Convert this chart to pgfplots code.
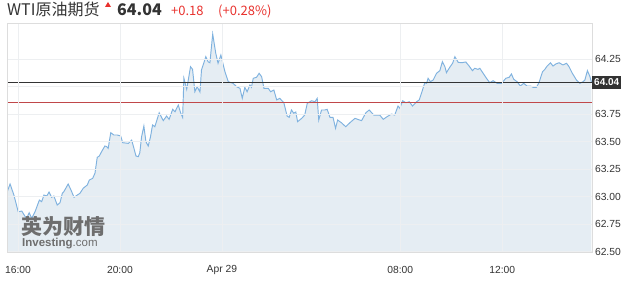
\documentclass[border=0pt]{standalone}
\usepackage{fontspec}
\setmainfont{Liberation Sans}
\newfontfamily\cjk{Noto Sans CJK SC}
\usepackage{pgfplots}
\pgfplotsset{compat=1.18}
\definecolor{dark}{HTML}{333333}
\definecolor{upred}{HTML}{E8322E}
\definecolor{linecol}{HTML}{7FB2DF}
\definecolor{fillcol}{HTML}{E5EDF3}
\definecolor{gridcol}{HTML}{EDEFF1}
\definecolor{framecol}{HTML}{DDDDDD}
\definecolor{prevred}{HTML}{C0484A}
\definecolor{wm}{HTML}{6E6E6E}
\begin{document}
\begin{tikzpicture}
\useasboundingbox (0,0) rectangle (627pt,288pt);
\begin{axis}[
  at={(7pt,35.3pt)}, anchor=south west,
  width=585pt, height=229.7pt, scale only axis,
  xmin=-0.43, xmax=22.52, ymin=62.491, ymax=64.577,
  xtick={0,4,8,15,19},
  xticklabels={16:00,20:00,Apr 29,08:00,12:00},
  ytick={62.5,62.75,63,63.25,63.5,63.75,64,64.25},
  yticklabels={62.50,62.75,63.00,63.25,63.50,63.75,,64.25},
  yticklabel pos=right,
  yticklabel style={anchor=west, xshift=-0.5pt},
  ticklabel style={font=\fontsize{10.3}{12}\selectfont, text=dark},
  xticklabel style={anchor=center, yshift=-16.8pt},
  major tick length=0pt,
  grid=major,
  major grid style={gridcol, line width=0.6pt},
  axis line style={framecol, line width=0.6pt},
  axis on top,
  clip=true,
]
\addplot[draw=none, fill=fillcol] coordinates {
(-0.42,63.045) (-0.31,63.115) (-0.16,63.015) (0.01,62.863) (0.15,62.869) (0.27,62.824) (0.34,62.803) (0.44,62.854) (0.54,62.803) (0.67,62.863)
(0.84,62.969) (0.93,62.954) (1.02,63.015) (1.13,63.006) (1.22,63.042) (1.32,62.994) (1.41,63.006) (1.54,62.924) (1.65,62.945) (1.74,63.030)
(1.80,63.045) (1.97,63.115) (2.08,63.060) (2.20,62.994) (2.33,63.015) (2.43,63.030) (2.56,63.076) (2.72,63.106) (2.80,63.151) (2.93,63.166)
(3.02,63.212) (3.11,63.357) (3.19,63.369) (3.28,63.408) (3.41,63.460) (3.48,63.454) (3.54,63.439) (3.64,63.581) (3.76,63.560) (3.89,63.560)
(4.03,63.551) (4.11,63.490) (4.33,63.484) (4.46,63.514) (4.55,63.439) (4.63,63.369) (4.72,63.363) (4.78,63.399) (4.85,63.544) (4.94,63.641)
(5.02,63.499) (5.11,63.460) (5.20,63.544) (5.28,63.651) (5.37,63.635) (5.54,63.762) (5.70,63.690) (5.83,63.732) (5.93,63.702) (6.07,63.793)
(6.16,63.771) (6.29,63.832) (6.38,63.762) (6.46,63.720) (6.51,64.075) (6.62,63.975) (6.77,64.180) (6.85,64.156) (6.94,63.953) (7.03,63.998)
(7.14,63.950) (7.20,64.150) (7.37,64.271) (7.46,64.225) (7.53,64.216) (7.64,64.477) (7.76,64.302) (7.85,64.211) (7.96,64.286) (8.12,64.135)
(8.25,64.044) (8.44,64.029) (8.58,63.998) (8.71,63.984) (8.80,63.893) (8.90,63.993) (8.99,63.953) (9.10,64.014) (9.16,63.993) (9.23,64.075)
(9.36,64.084) (9.46,64.120) (9.56,64.089) (9.65,63.984) (9.82,63.984) (9.91,63.953) (10.04,63.968) (10.15,63.878) (10.27,63.893) (10.43,63.853)
(10.56,63.732) (10.64,63.720) (10.73,63.787) (10.82,63.757) (10.90,63.769) (10.97,63.681) (11.13,63.711) (11.25,63.741) (11.35,63.848) (11.52,63.871)
(11.65,63.862) (11.74,63.893) (11.80,63.696) (11.91,63.787) (12.04,63.787) (12.13,63.793) (12.24,63.720) (12.36,63.720) (12.46,63.621) (12.54,63.696)
(12.69,63.671) (12.86,63.635) (13.02,63.671) (13.22,63.711) (13.48,63.690) (13.65,63.762) (13.78,63.787) (13.96,63.741) (14.20,63.739) (14.33,63.702)
(14.48,63.726) (14.65,63.750) (14.78,63.741) (14.91,63.823) (14.98,63.802) (15.09,63.871) (15.22,63.853) (15.35,63.862) (15.48,63.823) (15.64,63.862)
(15.74,63.878) (15.87,63.968) (15.96,64.035) (16.03,64.029) (16.09,64.075) (16.18,64.044) (16.29,64.059) (16.42,64.120) (16.55,64.144) (16.65,64.225)
(16.75,64.180) (16.81,64.126) (16.94,64.175) (17.05,64.211) (17.14,64.271) (17.27,64.220) (17.40,64.216) (17.57,64.223) (17.70,64.186) (17.83,64.144)
(17.92,64.166) (18.05,64.156) (18.12,64.166) (18.25,64.120) (18.38,64.075) (18.51,64.035) (18.64,64.053) (18.80,64.029) (18.97,64.029) (19.14,64.075)
(19.27,64.084) (19.36,64.114) (19.45,64.066) (19.58,64.044) (19.71,64.005) (19.84,64.029) (19.97,64.005) (20.11,64.005) (20.21,63.993) (20.34,63.993)
(20.44,64.035) (20.58,64.135) (20.67,64.156) (20.76,64.186) (20.89,64.216) (20.99,64.186) (21.10,64.205) (21.23,64.216) (21.38,64.196) (21.52,64.211)
(21.62,64.180) (21.75,64.120) (21.91,64.059) (22.04,64.029) (22.17,64.044) (22.24,64.059) (22.34,64.144) (22.43,64.096) (22.50,64.040)
} \closedcycle;
\addplot[linecol, line width=0.95pt] coordinates {
(-0.42,63.045) (-0.31,63.115) (-0.16,63.015) (0.01,62.863) (0.15,62.869) (0.27,62.824) (0.34,62.803) (0.44,62.854) (0.54,62.803) (0.67,62.863)
(0.84,62.969) (0.93,62.954) (1.02,63.015) (1.13,63.006) (1.22,63.042) (1.32,62.994) (1.41,63.006) (1.54,62.924) (1.65,62.945) (1.74,63.030)
(1.80,63.045) (1.97,63.115) (2.08,63.060) (2.20,62.994) (2.33,63.015) (2.43,63.030) (2.56,63.076) (2.72,63.106) (2.80,63.151) (2.93,63.166)
(3.02,63.212) (3.11,63.357) (3.19,63.369) (3.28,63.408) (3.41,63.460) (3.48,63.454) (3.54,63.439) (3.64,63.581) (3.76,63.560) (3.89,63.560)
(4.03,63.551) (4.11,63.490) (4.33,63.484) (4.46,63.514) (4.55,63.439) (4.63,63.369) (4.72,63.363) (4.78,63.399) (4.85,63.544) (4.94,63.641)
(5.02,63.499) (5.11,63.460) (5.20,63.544) (5.28,63.651) (5.37,63.635) (5.54,63.762) (5.70,63.690) (5.83,63.732) (5.93,63.702) (6.07,63.793)
(6.16,63.771) (6.29,63.832) (6.38,63.762) (6.46,63.720) (6.51,64.075) (6.62,63.975) (6.77,64.180) (6.85,64.156) (6.94,63.953) (7.03,63.998)
(7.14,63.950) (7.20,64.150) (7.37,64.271) (7.46,64.225) (7.53,64.216) (7.64,64.477) (7.76,64.302) (7.85,64.211) (7.96,64.286) (8.12,64.135)
(8.25,64.044) (8.44,64.029) (8.58,63.998) (8.71,63.984) (8.80,63.893) (8.90,63.993) (8.99,63.953) (9.10,64.014) (9.16,63.993) (9.23,64.075)
(9.36,64.084) (9.46,64.120) (9.56,64.089) (9.65,63.984) (9.82,63.984) (9.91,63.953) (10.04,63.968) (10.15,63.878) (10.27,63.893) (10.43,63.853)
(10.56,63.732) (10.64,63.720) (10.73,63.787) (10.82,63.757) (10.90,63.769) (10.97,63.681) (11.13,63.711) (11.25,63.741) (11.35,63.848) (11.52,63.871)
(11.65,63.862) (11.74,63.893) (11.80,63.696) (11.91,63.787) (12.04,63.787) (12.13,63.793) (12.24,63.720) (12.36,63.720) (12.46,63.621) (12.54,63.696)
(12.69,63.671) (12.86,63.635) (13.02,63.671) (13.22,63.711) (13.48,63.690) (13.65,63.762) (13.78,63.787) (13.96,63.741) (14.20,63.739) (14.33,63.702)
(14.48,63.726) (14.65,63.750) (14.78,63.741) (14.91,63.823) (14.98,63.802) (15.09,63.871) (15.22,63.853) (15.35,63.862) (15.48,63.823) (15.64,63.862)
(15.74,63.878) (15.87,63.968) (15.96,64.035) (16.03,64.029) (16.09,64.075) (16.18,64.044) (16.29,64.059) (16.42,64.120) (16.55,64.144) (16.65,64.225)
(16.75,64.180) (16.81,64.126) (16.94,64.175) (17.05,64.211) (17.14,64.271) (17.27,64.220) (17.40,64.216) (17.57,64.223) (17.70,64.186) (17.83,64.144)
(17.92,64.166) (18.05,64.156) (18.12,64.166) (18.25,64.120) (18.38,64.075) (18.51,64.035) (18.64,64.053) (18.80,64.029) (18.97,64.029) (19.14,64.075)
(19.27,64.084) (19.36,64.114) (19.45,64.066) (19.58,64.044) (19.71,64.005) (19.84,64.029) (19.97,64.005) (20.11,64.005) (20.21,63.993) (20.34,63.993)
(20.44,64.035) (20.58,64.135) (20.67,64.156) (20.76,64.186) (20.89,64.216) (20.99,64.186) (21.10,64.205) (21.23,64.216) (21.38,64.196) (21.52,64.211)
(21.62,64.180) (21.75,64.120) (21.91,64.059) (22.04,64.029) (22.17,64.044) (22.24,64.059) (22.34,64.144) (22.43,64.096) (22.50,64.040)
};
% previous close and last price lines
\addplot[prevred, line width=0.8pt] coordinates {(-0.43,63.86) (22.52,63.86)};
\addplot[dark, line width=0.8pt] coordinates {(-0.43,64.04) (22.52,64.04)};
\coordinate (lastp) at (axis cs:22.52,64.04);
\end{axis}
% last price box
\node[anchor=west, fill=dark, text=white, inner xsep=2pt, inner ysep=3pt, font=\bfseries\fontsize{10}{12}\selectfont] at (lastp) {64.04};
% title
\node[anchor=base west, inner sep=0, text=dark, font=\cjk\fontsize{16}{18}\selectfont] at (7pt,272pt) {WTI原油期货};
\fill[upred] (105pt,281pt) -- (111pt,281pt) -- (108pt,286pt) -- cycle;
\node[anchor=base west, inner sep=0, text=dark, font=\cjk\bfseries\fontsize{16}{18}\selectfont] at (117pt,272pt) {64.04};
\node[anchor=base west, inner sep=0, text=upred, font=\cjk\fontsize{13}{15}\selectfont] at (171pt,272pt) {+0.18};
\node[anchor=base west, inner sep=0, text=upred, font=\cjk\fontsize{13}{15}\selectfont] at (218pt,272pt) {(+0.28\%)};
% watermark
\node[anchor=base west, inner sep=0, text=wm, font=\cjk\bfseries\fontsize{21}{23}\selectfont] at (21pt,53pt) {英为财情};
\node[anchor=base west, inner sep=0, text=wm, font=\fontsize{11.5}{13}\selectfont] at (22pt,41pt) {\textbf{Investing}.com};
\end{tikzpicture}
\end{document}
